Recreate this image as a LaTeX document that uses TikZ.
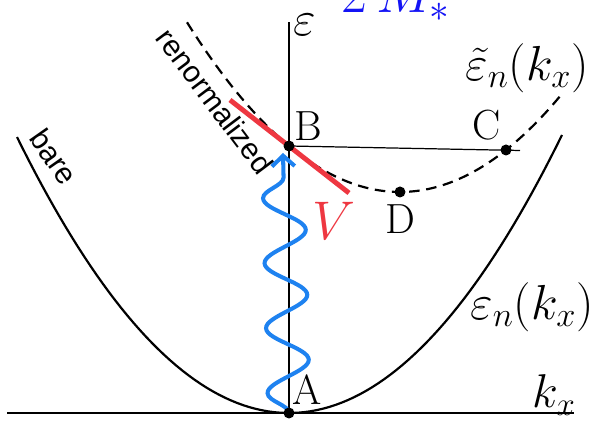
\RequirePackage{fix-cm}
\documentclass[tikz,border=0pt]{standalone}
\usepackage{amsmath,amssymb}
\usepackage{fontspec}
\newfontfamily\labelsans{Liberation Sans}
\usepackage{tikz}
\usetikzlibrary{arrows.meta}
\usetikzlibrary{calc}
\usetikzlibrary{decorations.pathmorphing}
\usepackage{xcolor}
\definecolor{photonblue}{RGB}{30,130,240}
\definecolor{vred}{RGB}{238,55,65}
\definecolor{massblue}{RGB}{20,20,245}

\begin{document}
\begin{tikzpicture}[x=0.02cm,y=0.02cm,
		band/.style={line width=1.25pt},
		ptlabel/.style={font=\fontsize{24}{28}\selectfont},
		mathlabel/.style={font=\fontsize{28}{32}\selectfont},
		curvelabel/.style={font=\labelsans\fontsize{17}{20}\selectfont}]
			
			\useasboundingbox (0,0) rectangle (596,421);
			
			% points on the two bands
			\coordinate (A) at (289,8);
			\coordinate (B) at (289,275);
			\coordinate (C) at (506,271);
			\coordinate (D) at (400,229);
			\coordinate (E) at (520,270.5);
			\coordinate (Btip) at (283,268);
			
			% axes
			\draw[line width=0.85pt] (7,8) -- (574,8);
			\draw[line width=0.85pt] (A) -- (289,399);
			\node[mathlabel, inner sep=1pt] (eps) at (305,396) {$\varepsilon$};
			\node[font=\fontsize{27}{30}\selectfont] (kx) at (554,26) {$k_x$};
			
			% bare band
			\draw[band, domain=17:562, samples=90] plot (\x, {8+278*((\x-289)/273)^2});
			\node[curvelabel, rotate=-55] (bare) at (54,264) {bare};
			\node[mathlabel] (epsn) at (532,114) {$\varepsilon_n(k_x)$};
			
			% renormalized band (dashed)
			\draw[band, dash pattern=on 6pt off 3.8pt, domain=187:562, samples=90]
				plot (\x, {229+169.7*((\x-400)/213)^2});
			\node[curvelabel, rotate=-53] (renorm) at (215,320) {renormalized};
			\node[mathlabel] (epsnt) at (527,353) {$\tilde{\varepsilon}_n(k_x)$};
			
			% level of B
			\draw[line width=0.7pt] (B) -- (E);
			
			% coupling V
			\draw[vred, line width=2.8pt] (230,321) -- (349,228);
			\node[font=\fontsize{31}{34}\selectfont, text=vred] (V) at (334,200) {$V$};
			
			% photon A -> B
			\draw[photonblue, line width=2.3pt, line cap=round,
				-{Straight Barb[length=6pt,width=13pt]},
				decorate, decoration={snake, segment length=1.3cm, amplitude=0.42cm, post length=0.35cm}]
				(A) -- (Btip);
			
			% dots
			\fill (A) circle (0.11cm);
			\fill (B) circle (0.11cm);
			\fill (C) circle (0.11cm);
			\fill (D) circle (0.11cm);
			\node[ptlabel] (labA) at (307,31) {A};
			\node[ptlabel] (labB) at (308,295) {B};
			\node[ptlabel] (labC) at (487,296) {C};
			\node[ptlabel] (labD) at (400,202) {D};
			
			% mass label, cut at the top edge
			\node[anchor=base west, inner sep=0pt, text=massblue, font=\fontsize{32}{36}\selectfont] (mass) at (341,408) {$2\,M_*$};
			
		\end{tikzpicture}
\end{document}
